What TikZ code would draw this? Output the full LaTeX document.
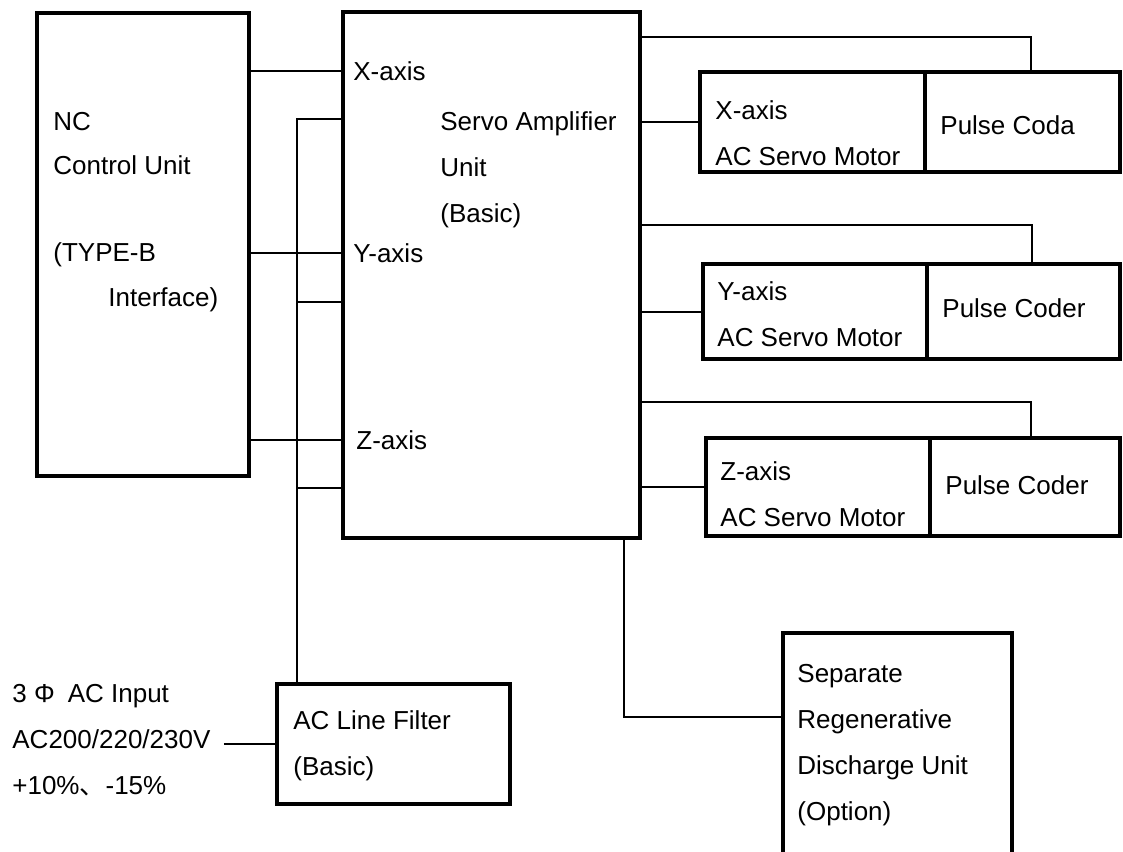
\documentclass[tikz,border=0pt]{standalone}
\usepackage{fontspec}
\setmainfont{Liberation Sans}
\newfontfamily\cjk{Noto Sans CJK SC}
\usetikzlibrary{positioning}

\begin{document}
\begin{tikzpicture}[x=0.5pt,y=-0.5pt,
  unitbox/.style={draw,line width=2pt,outer sep=0pt,inner sep=0pt},
  wire/.style={line width=1pt},
  txt/.style={inner sep=0pt,align=left,anchor=west,font=\fontsize{13}{23}\selectfont}
]
  \clip (0,0) rectangle (1123,851);
  \fill[white] (0,0) rectangle (1123,851);

  % NC and servo amplifier
  \node[unitbox,minimum width=106pt,minimum height=231.5pt] (nc) at (143,244.5) {};
  \node[unitbox,minimum width=148.5pt,minimum height=263pt] (servo) at (491.5,275) {};
  \node[txt] (nclbl) at (53,122) {NC};
  \node[txt] (nctxt) at (53,165) {Control Unit};
  \node[txt] (nctype) at (53,255) {(TYPE-B};
  \node[txt] (ncif) at (108,300) {Interface)};
  \node[txt] (xin) at (353,71) {X-axis};
  \node[txt] (yin) at (353,253) {Y-axis};
  \node[txt] (zin) at (356,440) {Z-axis};
  \node[txt] (servotxt) at (440,170) {Servo Amplifier\\Unit\\(Basic)};

  % motors with pulse coders
  \node[unitbox,minimum width=112.5pt,minimum height=50pt] (xmot) at (812.5,122) {};
  \node[unitbox,minimum width=97.5pt,minimum height=50pt,right=0pt of xmot] (xpc) {};
  \node[unitbox,minimum width=112pt,minimum height=47.5pt] (ymot) at (815,311.5) {};
  \node[unitbox,minimum width=96.5pt,minimum height=47.5pt,right=0pt of ymot] (ypc) {};
  \node[unitbox,minimum width=112pt,minimum height=49pt] (zmot) at (818,487) {};
  \node[unitbox,minimum width=95pt,minimum height=49pt,right=0pt of zmot] (zpc) {};
  \node[txt] (xmottxt) at (715,133) {X-axis\\AC Servo Motor};
  \node[txt] (ymottxt) at (717,314) {Y-axis\\AC Servo Motor};
  \node[txt] (zmottxt) at (720,494) {Z-axis\\AC Servo Motor};
  \node[txt] (xpctxt) at (940,125) {Pulse Coda};
  \node[txt] (ypctxt) at (942,308) {Pulse Coder};
  \node[txt] (zpctxt) at (945,485) {Pulse Coder};

  % power input, filter, discharge unit
  \node[unitbox,minimum width=116.5pt,minimum height=60pt] (filter) at (393.5,744) {};
  \node[txt] (filtertxt) at (293,746) {AC Line Filter\\(Basic)};
  \node[txt,inner xsep=6.5pt] (acin) at (-1,740) {3 Φ\enspace AC Input\\AC200/220/230V\\+10\%{\cjk 、}-15\%};
  \node[unitbox,minimum width=114.5pt,minimum height=133.5pt] (dis) at (897.5,766.5) {};
  \node[txt] (distxt) at (797,745) {Separate\\Regenerative\\Discharge Unit\\(Option)};

  \coordinate (pb1) at (297,119);
  \coordinate (pb2) at (297,302);
  \coordinate (pb3) at (297,488);
  \coordinate (xfb) at (640,37);
  \coordinate (yfb) at (640,225);
  \coordinate (zfb) at (640,402);
  \coordinate (dtap) at (624,717);

  % command lines
  \draw[wire] (xin -| nc.east) -- (xin -| servo.west);
  \draw[wire] (yin -| nc.east) -- (yin -| servo.west);
  \draw[wire] (zin -| nc.east) -- (zin -| servo.west);

  % power bus
  \draw[wire] (pb1 -| servo.west) -- (pb1) -- (pb1 |- filter.north);
  \draw[wire] (pb2) -- (pb2 -| servo.west);
  \draw[wire] (pb3) -- (pb3 -| servo.west);
  \draw[wire] (acin.east |- filter.west) -- (filter.west);

  % motor power and feedback
  \draw[wire] (servo.east |- xmot) -- (xmot.west);
  \draw[wire] (servo.east |- ymot) -- (ymot.west);
  \draw[wire] (servo.east |- zmot) -- (zmot.west);
  \draw[wire] (xfb) -| ([xshift=4pt]xpc.north);
  \draw[wire] (yfb) -| ([xshift=4pt]ypc.north);
  \draw[wire] (zfb) -| ([xshift=3pt]zpc.north);

  % discharge unit
  \draw[wire] (dtap |- servo.south) -- (dtap) -- (dtap -| dis.west);
\end{tikzpicture}
\end{document}
